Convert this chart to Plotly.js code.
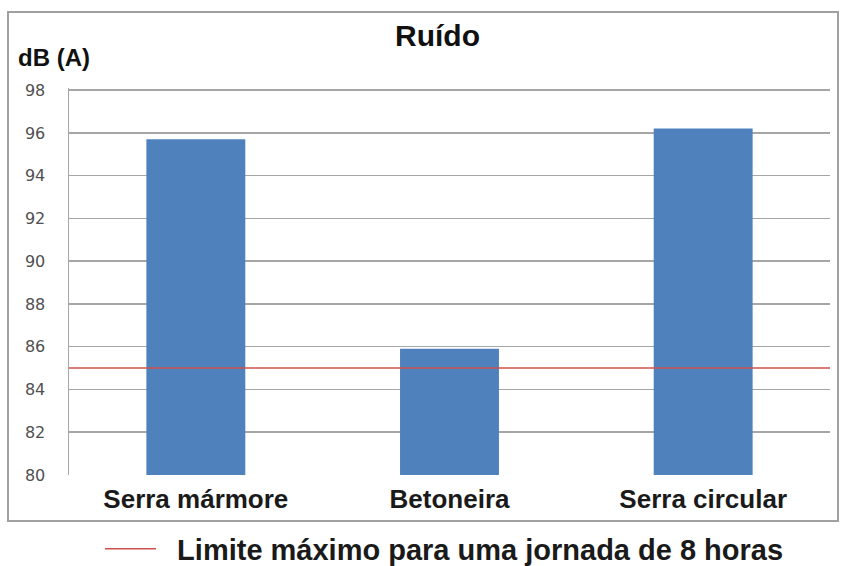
<!DOCTYPE html>
<html>
<head>
<meta charset="utf-8">
<script src="https://cdn.plot.ly/plotly-3.0.1.min.js"></script>
<style>html,body{margin:0;padding:0;background:#fff;}#chart{width:845px;height:566px;}</style>
</head>
<body>
<div id="chart"></div>
<script>
var categories = ["Serra mármore", "Betoneira", "Serra circular"];
var noiseValues = [95.7, 85.9, 96.2];
var limitValue = 85;
var limitName = "Limite máximo para uma jornada de 8 horas";
var yTicks = [80, 82, 84, 86, 88, 90, 92, 94, 96, 98];

var sans = "'Liberation Sans', Arial, sans-serif";
var tickSans = "'DejaVu Sans', Verdana, sans-serif";

var traces = [
  {
    type: "bar",
    x: categories,
    y: noiseValues,
    width: 0.39,
    marker: {color: "#4f81bd"},
    showlegend: false,
    hoverinfo: "x+y"
  },
  {
    type: "scatter",
    mode: "lines",
    x: [0, 1],
    y: [limitValue, limitValue],
    xaxis: "x2",
    name: "\u00a0\u00a0" + limitName,
    line: {color: "#d0504d", width: 1.5}
  }
];

var layout = {
  width: 845,
  height: 566,
  margin: {l: 69, r: 15, t: 88, b: 91, autoexpand: false},
  paper_bgcolor: "#ffffff",
  plot_bgcolor: "#ffffff",
  xaxis: {
    type: "category",
    range: [-0.5, 2.5],
    showgrid: false,
    zeroline: false,
    showline: false,
    ticks: "",
    ticklabelstandoff: 6,
    tickfont: {family: sans, size: 26, color: "#1a1a1a", weight: "bold"}
  },
  xaxis2: {
    overlaying: "x",
    range: [0, 1],
    visible: false
  },
  yaxis: {
    range: [80, 98.1],
    tickvals: yTicks,
    ticktext: yTicks.map(String),
    showgrid: true,
    gridcolor: "#a6a6a6",
    gridwidth: 1.5,
    zeroline: false,
    showline: true,
    linecolor: "#a6a6a6",
    linewidth: 1.5,
    ticks: "",
    ticklabelstandoff: 19,
    tickfont: {family: tickSans, size: 16, color: "#505050"}
  },
  showlegend: true,
  legend: {
    orientation: "h",
    x: (100 - 69) / 761,
    xanchor: "left",
    y: (475 - 549) / 387,
    yanchor: "middle",
    font: {family: sans, size: 29, color: "#1a1a1a", weight: "bold"},
    itemwidth: 51
  },
  shapes: [
    {
      type: "rect",
      xref: "paper", yref: "paper",
      x0: (8 - 69) / 761, x1: (838 - 69) / 761,
      y0: (475 - 521) / 387, y1: (475 - 12) / 387,
      line: {color: "#a0a0a0", width: 2},
      fillcolor: "rgba(0,0,0,0)",
      layer: "below"
    }
  ],
  annotations: [
    {
      text: "Ruído",
      xref: "paper", yref: "paper",
      x: (437 - 69) / 761, y: (475 - 36) / 387,
      xanchor: "center", yanchor: "middle",
      showarrow: false,
      font: {family: sans, size: 30, color: "#111111", weight: "bold"}
    },
    {
      text: "dB (A)",
      xref: "paper", yref: "paper",
      x: (16 - 69) / 761, y: (475 - 57) / 387,
      xanchor: "left", yanchor: "middle",
      showarrow: false,
      font: {family: sans, size: 24, color: "#111111", weight: "bold"}
    }
  ]
};

Plotly.newPlot("chart", traces, layout, {displayModeBar: false, staticPlot: true});
</script>
</body>
</html>
